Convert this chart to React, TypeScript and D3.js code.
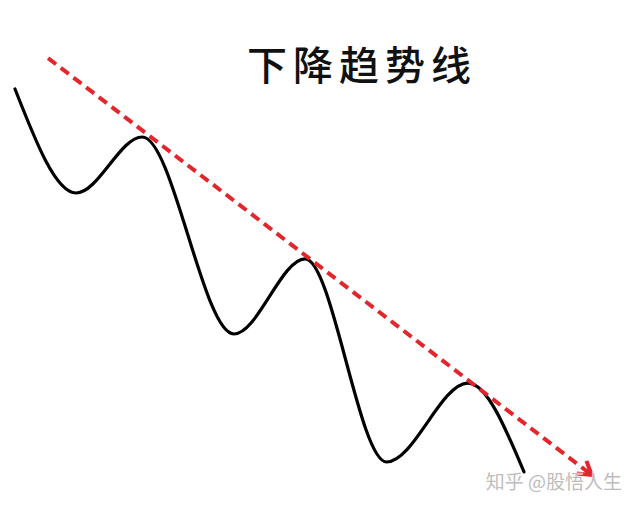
import { scaleLinear, line as d3_line, curveMonotoneX } from "d3"

// price path: time (0-100) and price (0-100), the turning points of the wave
const times = [0, 12, 25, 43, 57, 73, 89, 100]
const prices = [100, 72.7, 87.4, 35.7, 55.4, 2.1, 22.8, -0.5]

// trend line: start and end (time, price)
const trendTimes = [6.5, 113.3]
const trendPrices = [108.1, -1.3]

const title = "下降趋势线"
const watermark = "知乎 @股悟人生"

const W = 640
const H = 507

export default function App() {
  const x = scaleLinear().domain([0, 100]).range([15, 524])
  const y = scaleLinear().domain([0, 100]).range([470, 89])

  const pts = times.map((t, i) => ({ t, p: prices[i] }))
  const path = d3_line<{ t: number; p: number }>()
    .x((d) => x(d.t))
    .y((d) => y(d.p))
    .curve(curveMonotoneX)(pts)

  const x1 = x(trendTimes[0])
  const y1 = y(trendPrices[0])
  const x2 = x(trendTimes[1])
  const y2 = y(trendPrices[1])
  const ang = Math.atan2(y2 - y1, x2 - x1)
  const arm = 15
  const spread = (32 * Math.PI) / 180
  const a1 = [x2 - arm * Math.cos(ang - spread), y2 - arm * Math.sin(ang - spread)]
  const a2 = [x2 - arm * Math.cos(ang + spread), y2 - arm * Math.sin(ang + spread)]

  return (
    <div style={{ position: "absolute", left: 0, top: 0 }}>
      <svg width={W} height={H} style={{ display: "block", background: "#fff" }}>
        <text
          x={362}
          y={80}
          textAnchor="middle"
          fontFamily="'Noto Sans CJK SC', sans-serif"
          fontWeight={500}
          fontSize={40}
          letterSpacing={6}
          fill="#111"
        >
          {title}
        </text>

        {/* 價格曲線 */}
        <path d={path ?? ""} fill="none" stroke="#000" strokeWidth={3.2} strokeLinecap="round" />

        {/* 趨勢線 */}
        <line
          x1={x1}
          y1={y1}
          x2={x2}
          y2={y2}
          stroke="#e3262b"
          strokeWidth={4}
          strokeDasharray="10,6"
        />
        <polyline
          points={`${a1[0]},${a1[1]} ${x2},${y2} ${a2[0]},${a2[1]}`}
          fill="none"
          stroke="#e3262b"
          strokeWidth={4}
        />

        <text
          x={622}
          y={489}
          textAnchor="end"
          fontFamily="'Noto Sans CJK SC', sans-serif"
          fontSize={19}
          fill="#bdbdbd"
          stroke="#fff"
          strokeWidth={0.6}
          paintOrder="stroke"
        >
          {watermark}
        </text>
      </svg>
    </div>
  )
}
